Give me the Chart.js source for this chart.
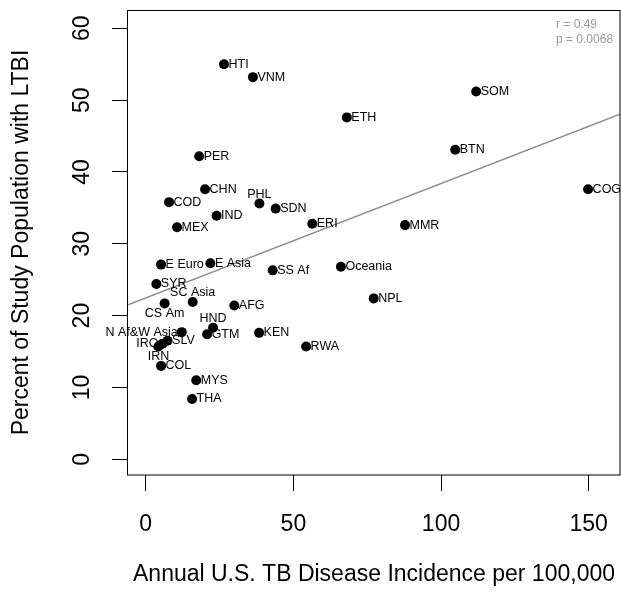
<!DOCTYPE html>
<html>
<head>
<meta charset="utf-8">
<script src="https://cdn.jsdelivr.net/npm/chart.js@4/dist/chart.umd.min.js"></script>
<style>
  html, body { margin: 0; padding: 0; background: #fff; }
  canvas { display: block; }
</style>
</head>
<body>
<canvas id="chart" width="621" height="600"></canvas>
<script>
/* ── Data ──────────────────────────────────────────────────── */
const countries = ['HTI', 'VNM', 'SOM', 'ETH', 'BTN', 'PER', 'COG', 'CHN', 'COD', 'PHL',
  'SDN', 'IND', 'MEX', 'ERI', 'MMR', 'E Euro', 'E Asia', 'Oceania', 'SS Af', 'SYR',
  'NPL', 'SC Asia', 'CS Am', 'AFG', 'HND', 'N Af&W Asia', 'GTM', 'KEN', 'SLV', 'IRQ',
  'IRN', 'RWA', 'COL', 'MYS', 'THA'];
const incidence = [26.5, 36.3, 111.9, 68.1, 104.8, 18.1, 149.8, 20.1, 7.9, 38.5,
  44.0, 24.0, 10.6, 56.4, 87.8, 5.2, 21.9, 66.1, 43.0, 3.6,
  77.2, 15.9, 6.4, 30.0, 22.8, 12.2, 20.8, 38.4, 7.4, 5.7,
  4.3, 54.3, 5.2, 17.1, 15.7];
const ltbiPct = [55.0, 53.2, 51.2, 47.6, 43.1, 42.2, 37.6, 37.6, 35.8, 35.6,
  34.9, 33.9, 32.3, 32.8, 32.6, 27.1, 27.3, 26.8, 26.3, 24.4,
  22.4, 21.9, 21.7, 21.4, 18.3, 17.7, 17.4, 17.6, 16.5, 16.1,
  15.7, 15.7, 13.0, 11.0, 8.4];
const xTicks = [0, 50, 100, 150];
const yTicks = [0, 10, 20, 30, 40, 50, 60];
const fitX = [-6, 160.6];
const fitY = [21.5, 48.05];
const statLines = ['r = 0.49', 'p = 0.0068'];

const FONT = '"Liberation Sans", Arial, Helvetica, sans-serif';
// where each label sits relative to its dot (default: right)
const labelSide = {
  'PHL': 'above', 'SC Asia': 'above', 'HND': 'above',
  'CS Am': 'below', 'IRN': 'below',
  'N Af&W Asia': 'left', 'IRQ': 'left'
};

/* ── R-style box, tick labels, titles and point labels ─────── */
const rStyle = {
  id: 'rStyle',
  afterDatasetsDraw(chart) {
    const { ctx, chartArea: a, scales: { x, y } } = chart;
    ctx.save();
    ctx.strokeStyle = '#000';
    ctx.lineWidth = 1;
    ctx.strokeRect(Math.round(a.left) - 0.5, Math.round(a.top) + 0.5,
      Math.round(a.right - a.left) + 0.5, Math.round(a.bottom - a.top) - 0.5);

    // point labels
    const meta = chart.getDatasetMeta(0);
    ctx.fillStyle = '#000';
    ctx.font = `12.5px ${FONT}`;
    meta.data.forEach((pt, i) => {
      const name = countries[i];
      const side = labelSide[name] || 'right';
      ctx.textBaseline = 'middle';
      if (side === 'right') { ctx.textAlign = 'left'; ctx.fillText(name, pt.x + 4.5, pt.y); }
      else if (side === 'left') { ctx.textAlign = 'right'; ctx.fillText(name, pt.x - 4, pt.y); }
      else if (side === 'above') { ctx.textAlign = 'center'; ctx.fillText(name, pt.x, pt.y - 9); }
      else { ctx.textAlign = 'center'; ctx.fillText(name, pt.x, pt.y + 10); }
    });

    // tick labels
    ctx.font = `23px ${FONT}`;
    ctx.textAlign = 'center';
    ctx.textBaseline = 'middle';
    xTicks.forEach(v => ctx.fillText(String(v), x.getPixelForValue(v), 525));
    yTicks.forEach(v => {
      ctx.save();
      ctx.translate(83, y.getPixelForValue(v));
      ctx.rotate(-Math.PI / 2);
      ctx.fillText(String(v), 0, 0);
      ctx.restore();
    });

    // axis titles
    ctx.fillText('Annual U.S. TB Disease Incidence per 100,000', (a.left + a.right) / 2, 575);
    ctx.save();
    ctx.translate(22, (a.top + a.bottom) / 2);
    ctx.rotate(-Math.PI / 2);
    ctx.fillText('Percent of Study Population with LTBI', 0, 0);
    ctx.restore();

    // correlation note
    ctx.fillStyle = '#9a9a9a';
    ctx.font = `12px ${FONT}`;
    ctx.textAlign = 'left';
    statLines.forEach((t, i) => ctx.fillText(t, 556, 25 + i * 15));
    ctx.restore();
  }
};

const axisGrid = { display: true, drawOnChartArea: false, drawTicks: true, tickLength: 16, color: '#000', lineWidth: 1 };

new Chart(document.getElementById('chart'), {
  type: 'scatter',
  data: {
    datasets: [
      {
        label: 'Countries',
        data: incidence.map((v, i) => ({ x: v, y: ltbiPct[i] })),
        backgroundColor: '#000',
        borderWidth: 0,
        pointRadius: 5,
        pointHoverRadius: 5
      },
      {
        type: 'line',
        label: 'Fit',
        data: fitX.map((v, i) => ({ x: v, y: fitY[i] })),
        borderColor: '#8e8e8e',
        borderWidth: 1.5,
        pointRadius: 0,
        fill: false
      }
    ]
  },
  options: {
    responsive: false,
    devicePixelRatio: 1,
    animation: false,
    layout: { autoPadding: false, padding: { top: 10, right: 1, left: 0, bottom: 0 } },
    plugins: { legend: { display: false }, tooltip: { enabled: false } },
    scales: {
      x: {
        type: 'linear', min: -6, max: 160.6,
        afterBuildTicks: s => { s.ticks = xTicks.map(v => ({ value: v })); },
        afterFit: s => { s.height = 125; },
        ticks: { display: false },
        grid: axisGrid,
        border: { display: false }
      },
      y: {
        type: 'linear', min: -2.19, max: 62.55,
        afterBuildTicks: s => { s.ticks = yTicks.map(v => ({ value: v })); },
        afterFit: s => { s.width = 128; },
        ticks: { display: false },
        grid: axisGrid,
        border: { display: false }
      }
    }
  },
  plugins: [rStyle]
});
</script>
</body>
</html>
